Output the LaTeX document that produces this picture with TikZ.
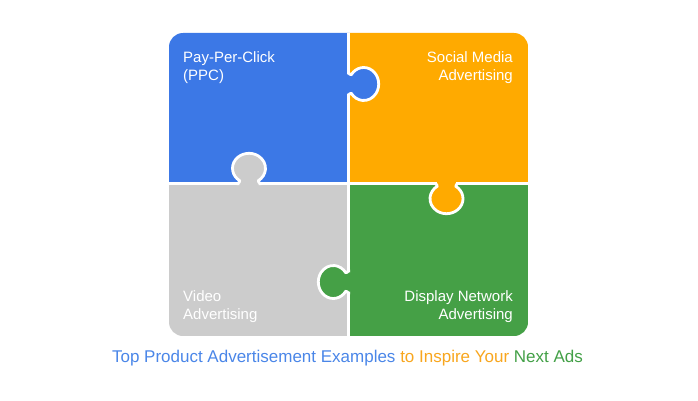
\documentclass[tikz,border=0pt]{standalone}
\usepackage{fontspec}
\setmainfont{Liberation Sans}
\usetikzlibrary{calc,positioning}
\definecolor{P}{RGB}{60,120,230}
\definecolor{S}{RGB}{255,170,0}
\definecolor{V}{RGB}{204,204,204}
\definecolor{D}{RGB}{69,160,70}
\definecolor{TP}{RGB}{74,134,232}
\definecolor{TS}{RGB}{248,166,30}
\definecolor{TD}{RGB}{67,160,71}
\tikzstyle{piecetext} = [text=white, inner sep=0pt,
font=\fontsize{15}{18}\selectfont]
\tikzstyle{seam} = [white, line width=2.8pt]

\begin{document}
\begin{tikzpicture}[x=1pt,y=1pt]
        \useasboundingbox (0,0) rectangle (698,400);
        % the four pieces
        \begin{scope}
        \clip[rounded corners=14pt] (169,64) rectangle (528,367);
        \foreach \Z/\X/\Y in {P/169/216.5,S/348.5/216.5,V/169/64,D/348.5/64}
          {\fill[\Z] (\X,\Y) rectangle ++(179.5,152.5);}
        \end{scope}
        \draw[seam] (169,216.5) -- (528,216.5) (348.5,64) -- (348.5,367);
        % tabs
        \foreach \Z/\X/\Y/\A in {P/348.5/316/0,V/249/216.5/90,S/446.5/216.5/-90,D/348.5/118/180}
          {\begin{scope}[shift={(\X,\Y)},rotate=\A]
        \fill[\Z] (-1.5,11) -- (0,11) .. controls (1.2,11) and (1.94,7.94) .. (2.91,9.46)
        arc[start angle=145,end angle=-145,x radius=15,y radius=16.5]
        .. controls (1.94,-7.94) and (1.2,-11) .. (0,-11) -- (-1.5,-11) -- cycle;
        \draw[seam] (-1.5,11) -- (0,11) .. controls (1.2,11) and (1.94,7.94) .. (2.91,9.46)
        arc[start angle=145,end angle=-145,x radius=15,y radius=16.5]
        .. controls (1.94,-7.94) and (1.2,-11) .. (0,-11) -- (-1.5,-11);
        \end{scope}}
        % texts
        \node[piecetext,anchor=north west,align=left] (ppc) at (183,349) {Pay-Per-Click\\(PPC)};
        \node[piecetext,anchor=north east,align=right] (social) at (513,349) {Social Media\\Advertising};
        \node[piecetext,anchor=north west,align=left] (video) at (183,110) {Video\\Advertising};
        \node[piecetext,anchor=north east,align=right] (display) at (513,110) {Display Network\\Advertising};
        \node[anchor=base,font=\fontsize{17}{20}\selectfont] (title) at (347.5,37.3)
        {\textcolor{TP}{Top Product Advertisement Examples} \textcolor{TS}{to Inspire Your} \textcolor{TD}{Next Ads}};
      \end{tikzpicture}
\end{document}
